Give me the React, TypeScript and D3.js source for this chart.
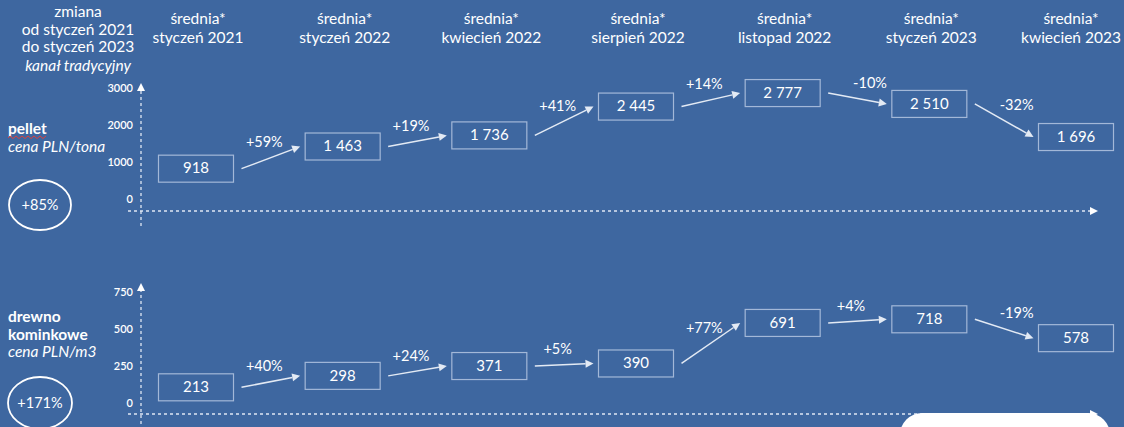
import React from "react";
import * as d3 from "d3";

const months = ["styczeń 2021", "styczeń 2022", "kwiecień 2022", "sierpień 2022", "listopad 2022", "styczeń 2023", "kwiecień 2023"];
const pellet = [918, 1463, 1736, 2445, 2777, 2510, 1696];
const pelletChange = ["+59%", "+19%", "+41%", "+14%", "-10%", "-32%"];
const wood = [213, 298, 371, 390, 691, 718, 578];
const woodChange = ["+40%", "+24%", "+5%", "+77%", "+4%", "-19%"];
const pelletTicks = [0, 1000, 2000, 3000];
const woodTicks = [0, 250, 500, 750];
const pelletTotal = "+85%";
const woodTotal = "+171%";

const W = 1124;
const H = 427;
const BG = "#3e67a0";
const FONT = "Lato, 'Open Sans', sans-serif";
const BOX_W = 75;
const BOX_H = 27;

const fmt = d3.formatLocale({ decimal: ",", thousands: " ", grouping: [3], currency: ["", ""] }).format(",d");

const x = d3.scalePoint<string>().domain(months).range([196, 1076]);

type Panel = {
  values: number[];
  changes: string[];
  ticks: number[];
  tickScale: d3.ScaleLinear<number, number>;
  boxScale: d3.ScaleLinear<number, number>;
  axisY: number;
  axisTop: number;
  axisBottom: number;
};

const panels: Panel[] = [
  {
    values: pellet,
    changes: pelletChange,
    ticks: pelletTicks,
    tickScale: d3.scaleLinear().domain([0, 3000]).range([200, 89]),
    boxScale: d3.scaleLinear().domain([0, 3000]).range([206, 84]),
    axisY: 211,
    axisTop: 83,
    axisBottom: 226,
  },
  {
    values: wood,
    changes: woodChange,
    ticks: woodTicks,
    tickScale: d3.scaleLinear().domain([0, 750]).range([404, 293]),
    boxScale: d3.scaleLinear().domain([0, 750]).range([416, 315]),
    axisY: 414,
    axisTop: 283,
    axisBottom: 430,
  },
];

const AXIS_X = 141;

function Arrow({ x1, y1, x2, y2, color, width, head }: { x1: number; y1: number; x2: number; y2: number; color: string; width: number; head: number }) {
  const a = Math.atan2(y2 - y1, x2 - x1);
  const bx = x2 - head * Math.cos(a);
  const by = y2 - head * Math.sin(a);
  const hw = head * 0.5;
  const p1 = [bx + hw * Math.sin(a), by - hw * Math.cos(a)];
  const p2 = [bx - hw * Math.sin(a), by + hw * Math.cos(a)];
  return (
    <g>
      <line x1={x1} y1={y1} x2={bx} y2={by} stroke={color} strokeWidth={width} />
      <path d={`M${x2},${y2}L${p1[0]},${p1[1]}L${p2[0]},${p2[1]}Z`} fill={color} />
    </g>
  );
}

function DashedArrow({ x1, y1, x2, y2 }: { x1: number; y1: number; x2: number; y2: number }) {
  const a = Math.atan2(y2 - y1, x2 - x1);
  const head = 8;
  const bx = x2 - head * Math.cos(a);
  const by = y2 - head * Math.sin(a);
  const hw = 4;
  const p1 = [bx + hw * Math.sin(a), by - hw * Math.cos(a)];
  const p2 = [bx - hw * Math.sin(a), by + hw * Math.cos(a)];
  return (
    <g>
      <line x1={x1} y1={y1} x2={bx} y2={by} stroke="#dfe7f3" strokeWidth={1.3} strokeDasharray="3,3" />
      <path d={`M${x2},${y2}L${p1[0]},${p1[1]}L${p2[0]},${p2[1]}Z`} fill="#ffffff" />
    </g>
  );
}

function PanelView({ p }: { p: Panel }) {
  return (
    <g>
      <DashedArrow x1={AXIS_X} y1={p.axisBottom} x2={AXIS_X} y2={p.axisTop} />
      <DashedArrow x1={128} y1={p.axisY} x2={1098} y2={p.axisY} />
      {p.ticks.map((t) => (
        <text key={t} x={133} y={p.tickScale(t)} textAnchor="end" dominantBaseline="middle" fontSize={11} fontWeight={600} fill="#ffffff" fontFamily={FONT}>
          {t}
        </text>
      ))}
      {p.values.map((v, i) => {
        const cx = x(months[i])!;
        const cy = p.boxScale(v);
        return (
          <g key={i}>
            <rect x={cx - BOX_W / 2} y={cy - BOX_H / 2} width={BOX_W} height={BOX_H} fill="none" stroke="#a3b8d8" strokeWidth={1.2} />
            <text x={cx} y={cy + 1} textAnchor="middle" dominantBaseline="middle" fontSize={15} fill="#ffffff" fontFamily={FONT}>
              {fmt(v)}
            </text>
          </g>
        );
      })}
      {p.changes.map((c, i) => {
        const xa = x(months[i])!;
        const xb = x(months[i + 1])!;
        const ya = p.boxScale(p.values[i]);
        const yb = p.boxScale(p.values[i + 1]);
        const mid = (xa + xb) / 2;
        const shift = yb - ya > 10 ? 19 : 0;
        return (
          <g key={i}>
            <Arrow x1={xa + BOX_W / 2 + 8} y1={ya} x2={xb - BOX_W / 2 - 5} y2={yb} color="#e3eaf4" width={1.5} head={8} />
            <text x={mid - 5 + shift} y={(ya + yb) / 2 - 14} textAnchor="middle" dominantBaseline="middle" fontSize={14.5} fill="#ffffff" fontFamily={FONT}>
              {c}
            </text>
          </g>
        );
      })}
    </g>
  );
}

export default function App() {
  const txt = { fill: "#ffffff", fontFamily: FONT, fontSize: 15.5 } as const;
  let wave = "M8,138";
  for (let i = 0; i < 13; i++) wave += `L${10 + i * 3},${i % 2 === 0 ? 136 : 138.5}`;
  return (
    <svg width={W} height={H} style={{ position: "absolute", left: 0, top: 0, display: "block" }}>
      <rect x={0} y={0} width={W} height={H} fill={BG} />
      <g textAnchor="middle">
        <text x={78} y={17} {...txt}>zmiana</text>
        <text x={78} y={35} {...txt}>od styczeń 2021</text>
        <text x={78} y={52} {...txt}>do styczeń 2023</text>
        <text x={78} y={71} {...txt} fontStyle="italic">kanał tradycyjny</text>
      </g>
      {months.map((m) => {
        const hx = Math.min(x(m)! + 2, 1071);
        return (
          <g key={m} textAnchor="middle">
            <text x={hx} y={24} {...txt}>średnia*</text>
            <text x={hx} y={43} {...txt}>{m}</text>
          </g>
        );
      })}
      <text x={8} y={134} {...txt} fontWeight="bold">pellet</text>
      <path d={wave} fill="none" stroke="#e0403a" strokeWidth={1} />
      <text x={8} y={152} {...txt} fontStyle="italic">cena PLN/tona</text>
      <ellipse cx={40} cy={205} rx={31} ry={25} fill="none" stroke="#ffffff" strokeWidth={1.8} />
      <text x={40} y={206} textAnchor="middle" dominantBaseline="middle" {...txt} fontSize={14.5}>{pelletTotal}</text>
      <text x={8} y={322} {...txt} fontWeight="bold">drewno</text>
      <text x={8} y={340} {...txt} fontWeight="bold">kominkowe</text>
      <text x={8} y={357} {...txt} fontStyle="italic">cena PLN/m3</text>
      <ellipse cx={40} cy={403} rx={32} ry={26} fill="none" stroke="#ffffff" strokeWidth={1.8} />
      <text x={40} y={404} textAnchor="middle" dominantBaseline="middle" {...txt} fontSize={14.5}>{woodTotal}</text>
      {panels.map((p, i) => (
        <PanelView key={i} p={p} />
      ))}
      <rect x={900} y={413} width={210} height={60} rx={22} fill="#ffffff" />
    </svg>
  );
}
